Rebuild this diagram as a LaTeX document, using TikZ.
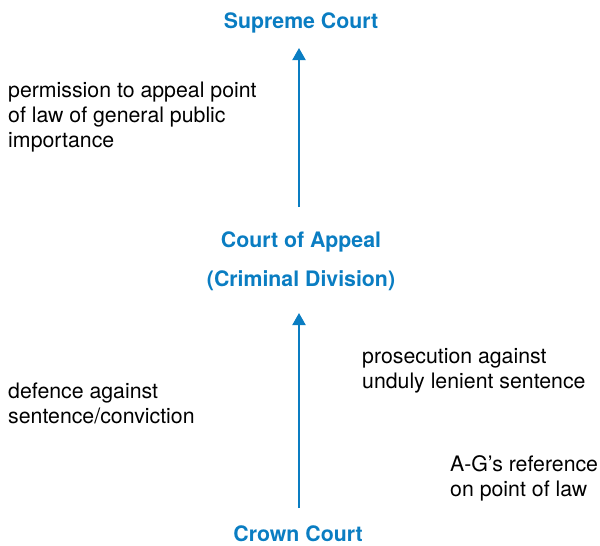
\documentclass[tikz,border=0pt]{standalone}
\usepackage{fontspec}
\setmainfont{TeX Gyre Heros}
\usetikzlibrary{arrows.meta}
\definecolor{courtblue}{HTML}{0A7DC2}
\begin{document}
\begin{tikzpicture}[x=1pt,y=-1pt,
  court/.style={text=courtblue,font=\fontsize{21.3}{38.5}\selectfont\bfseries,inner sep=0pt,align=center},
  route/.style={font=\fontsize{21.3}{25}\selectfont,inner sep=0pt,align=left,anchor=north west},
  appeal/.style={draw=courtblue,line width=2pt,-{Triangle[width=13pt,length=12pt]}}]
\useasboundingbox (0,0) rectangle (600,546);
% courts
\node[court,anchor=base] (sc) at (301,28) {Supreme Court};
\node[court,anchor=north] (ca) at (301,232) {Court of Appeal\\(Criminal Division)};
\node[court,anchor=base] (cc) at (298,541.5) {Crown Court};
% routes of appeal
\coordinate (caTop) at (299,207);
\coordinate (scBot) at (299,48);
\coordinate (ccTop) at (299,508);
\coordinate (caBot) at (299,313);
\draw[appeal] (caTop) -- (scBot);
\draw[appeal] (ccTop) -- (caBot);
% labels
\node[route] (perm) at (8,82) {permission to appeal point\\of law of general public\\importance};
\node[route] (pros) at (362,348) {prosecution against\\unduly lenient sentence};
\node[route] (def) at (8,383) {defence against\\sentence/conviction};
\node[route] (ag) at (450,455) {A-G’s reference\\on point of law};
\end{tikzpicture}
\end{document}
